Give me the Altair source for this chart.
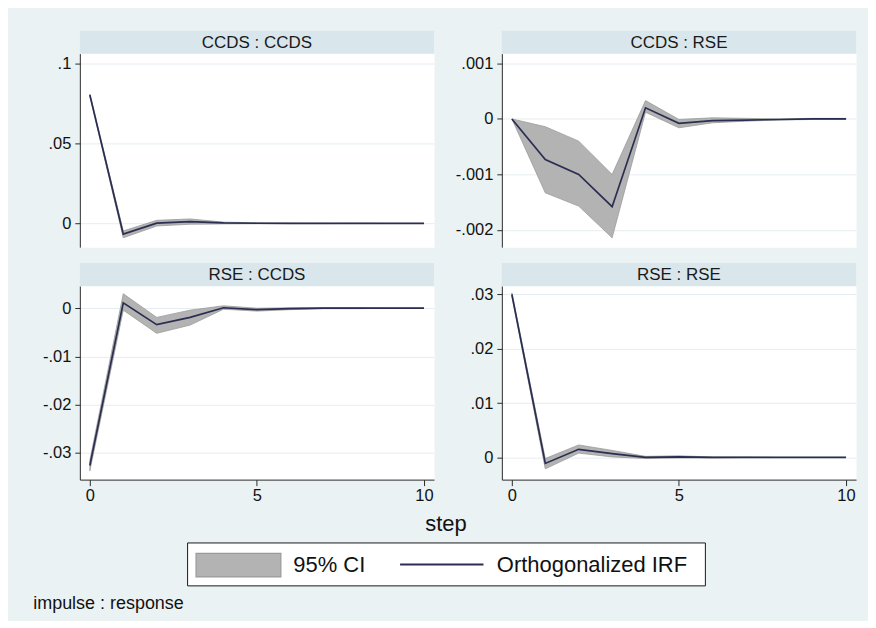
import altair as alt
import pandas as pd

FONT = "Liberation Sans"
BG = "#EAF2F3"
STRIP = "#D9E6EB"
CI_FILL = "#B3B3B3"
CI_EDGE = "#9A9A9A"
LINE = "#2A2E50"
GRID = "#E6EDF0"
AXIS = "#2b2b2b"

steps = list(range(11))

# impulse CCDS -> response CCDS
irf_cc = [0.0802, -0.0067, 0.0002, 0.0011, 0.0003, 0.0001, 0.00005, 0.0, 0.0, 0.0, 0.0]
lo_cc = [0.0796, -0.0090, -0.0016, -0.0005, -0.0003, -0.0002, -0.0001, -0.0001, 0.0, 0.0, 0.0]
hi_cc = [0.0808, -0.0047, 0.0019, 0.0028, 0.0008, 0.0004, 0.0002, 0.0001, 0.0001, 0.0, 0.0]

# impulse CCDS -> response RSE
irf_cr = [0.0, -0.00073, -0.00100, -0.00158, 0.00020, -0.00008, -0.00003, -0.00002, -0.00001, 0.0, 0.0]
lo_cr = [0.0, -0.00133, -0.00157, -0.00214, 0.00012, -0.00016, -0.00007, -0.00004, -0.00002, -0.00001, -0.00001]
hi_cr = [0.0, -0.00014, -0.00040, -0.00100, 0.00033, -0.00001, 0.00002, 0.00001, 0.0, 0.00001, 0.00001]

# impulse RSE -> response CCDS
irf_rc = [-0.0326, 0.0011, -0.0034, -0.0019, 0.0001, -0.0003, -0.0001, 0.0, 0.0, 0.0, 0.0]
lo_rc = [-0.0337, -0.0004, -0.0052, -0.0035, -0.0002, -0.0006, -0.0003, -0.0001, -0.0001, 0.0, 0.0]
hi_rc = [-0.0315, 0.0030, -0.0019, -0.0004, 0.0005, 0.0000, 0.0001, 0.0001, 0.0001, 0.0, 0.0]

# impulse RSE -> response RSE
irf_rr = [0.0300, -0.0011, 0.0015, 0.0007, 0.0000, 0.0001, 0.0, 0.0, 0.0, 0.0, 0.0]
lo_rr = [0.0297, -0.0021, 0.0008, 0.0001, -0.0002, -0.0001, -0.0001, 0.0, 0.0, 0.0, 0.0]
hi_rr = [0.0303, -0.0002, 0.0023, 0.0013, 0.0002, 0.0003, 0.0001, 0.0001, 0.0, 0.0, 0.0]

panel_titles = ["CCDS : CCDS", "CCDS : RSE", "RSE : CCDS", "RSE : RSE"]
x_ticks = [0, 5, 10]
y_ticks_cc = [0, 0.05, 0.1]
y_ticks_cr = [-0.002, -0.001, 0, 0.001]
y_ticks_rc = [-0.03, -0.02, -0.01, 0]
y_ticks_rr = [0, 0.01, 0.02, 0.03]

x_title = ["step"]
legend_labels = ["95% CI", "Orthogonalized IRF"]
note_text = ["impulse : response"]

PW, PH, SH = 355, 194, 23
LABEL_EXPR = ("datum.value == 0 ? '0' : (datum.value < 0 ? '-' : '') + "
              "replace(toString(abs(datum.value)), '0.', '.')")


def panel(title, irf, lo, hi, domain, ticks, bottom):
    df = pd.DataFrame({"step": steps, "irf": irf, "lo": lo, "hi": hi})
    xscale = alt.Scale(domain=[-0.3, 10.3], nice=False, zero=False)
    yscale = alt.Scale(domain=domain, nice=False, zero=False)
    if bottom:
        xaxis = alt.Axis(values=x_ticks, title=None, grid=False, format="d",
                         labelFontSize=16.5, labelColor="#111", labelPadding=2,
                         tickSize=6, tickColor=AXIS, domainColor=AXIS,
                         labelFont=FONT)
    else:
        xaxis = None
    yaxis = alt.Axis(values=ticks, title=None, labelExpr=LABEL_EXPR,
                     labelFontSize=16.5, labelColor="#111", labelPadding=4,
                     tickSize=5, tickColor=AXIS, domainColor=AXIS,
                     grid=True, gridColor=GRID, gridWidth=1, labelFont=FONT)
    base = alt.Chart(df)
    band = base.mark_area(color=CI_FILL, stroke=CI_EDGE, strokeWidth=0.8,
                          opacity=1).encode(
        x=alt.X("step:Q", scale=xscale, axis=xaxis),
        y=alt.Y("lo:Q", scale=yscale, axis=yaxis),
        y2="hi:Q",
    )
    line = base.mark_line(color=LINE, strokeWidth=1.7).encode(
        x=alt.X("step:Q", scale=xscale, axis=xaxis),
        y=alt.Y("irf:Q", scale=yscale, axis=yaxis),
    )
    tdf = alt.Chart(pd.DataFrame({"t": [title]}))
    strip_bg = tdf.mark_rect(fill=STRIP).encode(
        x=alt.value(0), x2=alt.value(PW), y=alt.value(-SH), y2=alt.value(0))
    strip_txt = tdf.mark_text(
        fontSize=17, font=FONT, color="#1a1a1a", align="center",
        baseline="middle").encode(
        text="t:N", x=alt.value(PW / 2), y=alt.value(-SH / 2 + 0.5))
    return alt.layer(band, line, strip_bg, strip_txt).properties(
        width=PW, height=PH,
        view=alt.ViewBackground(fill="white", stroke="transparent"))


p1 = panel(panel_titles[0], irf_cc, lo_cc, hi_cc, [-0.01484, 0.10611], y_ticks_cc, False)
p2 = panel(panel_titles[1], irf_cr, lo_cr, hi_cr, [-0.002309, 0.001176], y_ticks_cr, False)
p3 = panel(panel_titles[2], irf_rc, lo_rc, hi_rc, [-0.03552, 0.00459], y_ticks_rc, True)
p4 = panel(panel_titles[3], irf_rr, lo_rr, hi_rr, [-0.00408, 0.03156], y_ticks_rr, True)

# footer: x title, legend, note (local coords, origin at the left panels' left edge)
one = alt.Chart(pd.DataFrame({"k": [0]}))
canvas = one.mark_rect(opacity=0, fill="white").encode(
    x=alt.value(-71), x2=alt.value(789), y=alt.value(-510.5), y2=alt.value(101.5))
xt = alt.Chart(pd.DataFrame({"t": x_title})).mark_text(
    fontSize=22, font=FONT, color="#111", align="center", baseline="middle").encode(
    text="t:N", x=alt.value(367), y=alt.value(5.5))
box = one.mark_rect(fill="white", stroke="#1a1a1a", strokeWidth=1).encode(
    x=alt.value(108), x2=alt.value(627), y=alt.value(24.5), y2=alt.value(67.5))
swatch = one.mark_rect(fill=CI_FILL, stroke=CI_EDGE, strokeWidth=1.2).encode(
    x=alt.value(116.5), x2=alt.value(201.5), y=alt.value(35), y2=alt.value(58.5))
legline = one.mark_rule(color=LINE, strokeWidth=2).encode(
    x=alt.value(321), x2=alt.value(404.6), y=alt.value(46))
lt1 = alt.Chart(pd.DataFrame({"t": [legend_labels[0]]})).mark_text(
    fontSize=22, font=FONT, color="#111", align="left", baseline="middle").encode(
    text="t:N", x=alt.value(214), y=alt.value(46.5))
lt2 = alt.Chart(pd.DataFrame({"t": [legend_labels[1]]})).mark_text(
    fontSize=22, font=FONT, color="#111", align="left", baseline="middle").encode(
    text="t:N", x=alt.value(418), y=alt.value(46.5))
note = alt.Chart(pd.DataFrame({"t": note_text})).mark_text(
    fontSize=18, font=FONT, color="#111", align="left", baseline="middle").encode(
    text="t:N", x=alt.value(-46.7), y=alt.value(85.5))
footer = alt.layer(canvas, xt, box, swatch, legline, lt1, lt2, note).properties(
    width=PW, height=80)

chart = alt.concat(p1, p2, p3, p4, footer, columns=2,
                   spacing={"row": 39, "column": 68}, bounds="flush").properties(
    padding={"left": 0, "top": 0, "right": 0, "bottom": 0}
).configure(
    background=BG,
    font=FONT,
).configure_view(stroke="transparent")

chart.save("out.html", embed_options={"renderer": "svg", "actions": False})
